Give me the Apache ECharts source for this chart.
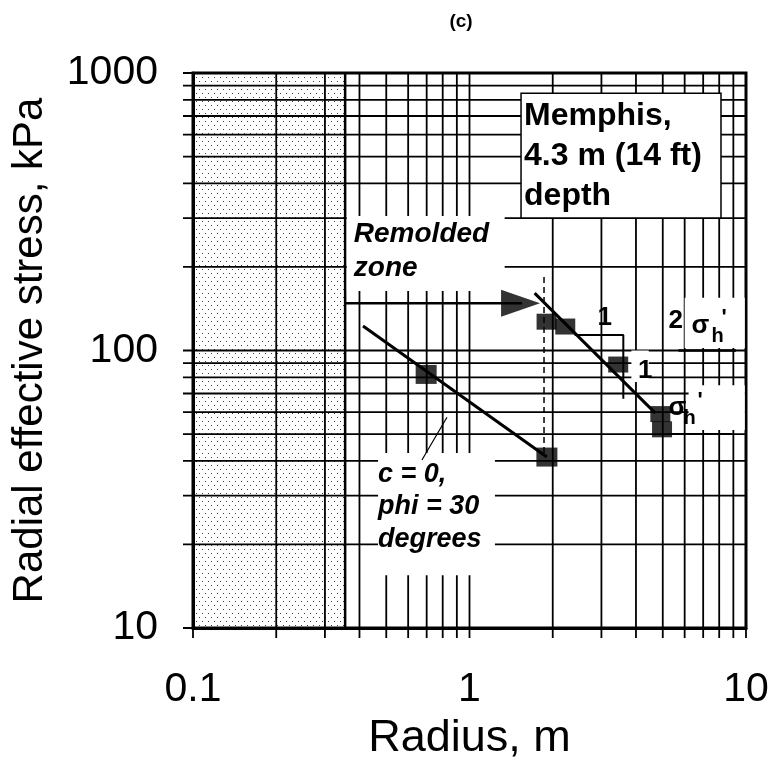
<!DOCTYPE html>
<html>
<head>
<meta charset="utf-8">
<script src="https://cdn.jsdelivr.net/npm/echarts@6/dist/echarts.min.js"></script>
<style>
  html, body { margin: 0; padding: 0; background: #fff; }
  #main { width: 770px; height: 766px; }
</style>
</head>
<body>
<div id="main"></div>
<script>
// log grid lines / ticks
var xTicks = [0.1, 0.2, 0.3, 0.4, 0.5, 0.6, 0.7, 0.8, 0.9, 1, 2, 3, 4, 5, 6, 7, 8, 9, 10];
var yTicks = [10, 20, 30, 40, 50, 60, 70, 80, 90, 100, 200, 300, 400, 500, 600, 700, 800, 900, 1000];

// measured radial effective stress (Memphis, 4.3 m)
var measR = [1.9, 2.22, 3.45, 4.9, 4.97];
var measS = [127, 122, 89, 59, 52];
// slope -1 line through the measurements
var fitR = [1.72, 4.7];
var fitS = [161, 59.5];
// c = 0, phi = 30 degrees
var cR = [0.697, 1.905];
var cS = [82, 41.3];
var cLineR = [0.412, 1.905];
var cLineS = [122.5, 41.3];
// remolded zone
var remoldR = 0.355;
var arrowR = [0.355, 1.55];
var arrowS = 148;
var arrowHeadR = 1.53;
var dashR = 1.86;
var dashS = [184, 42];
// 1:1 slope triangle
var triR = [2.4, 3.6, 3.6];
var triS = [113.7, 113.7, 67];
// sigma_h' and 2 sigma_h' levels
var sig2R = [5.7, 9.2], sig2S = 100;
var sigR = [5.2, 8.9], sigS = 50;
var leaderR = [0.673, 0.829], leaderS = [40.3, 57.5];

var FONT = '"Liberation Sans", Arial, sans-serif';

function zip(a, b) {
  var out = [];
  for (var i = 0; i < a.length; i++) out.push([a[i], b[i]]);
  return out;
}

// dot pattern for remolded zone
var cv = document.createElement('canvas');
cv.width = 6; cv.height = 8;
var cx = cv.getContext('2d');
cx.fillStyle = '#444';
cx.fillRect(1, 1, 1, 1);
cx.fillRect(4, 5, 1, 1);
var dotPattern = { image: cv, repeat: 'repeat' };

var chart = echarts.init(document.getElementById('main'));

function seg(data, width, type, z) {
  return {
    type: 'line', data: data, showSymbol: false, silent: true, z: z || 5,
    lineStyle: { color: '#000', width: width, type: type || 'solid' },
    animation: false
  };
}

var option = {
  animation: false,
  grid: {
    left: 193, right: 24, top: 73, bottom: 138, containLabel: false, outerBoundsMode: 'none',
    show: true, borderColor: '#000', borderWidth: 3
  },
  xAxis: {
    type: 'log', logBase: 10, min: 0.1, max: 10,
    name: 'Radius, m', nameLocation: 'middle', nameGap: 88,
    nameTextStyle: { fontSize: 45, color: '#000', fontFamily: FONT },
    axisLine: { lineStyle: { color: '#000', width: 3 } },
    axisTick: { show: false },
    splitLine: { show: false },
    axisLabel: { fontSize: 41, color: '#000', fontFamily: FONT, margin: 41, formatter: function (v) { return String(v); } }
  },
  yAxis: {
    type: 'log', logBase: 10, min: 10, max: 1000,
    name: 'Radial effective stress, kPa', nameLocation: 'middle', nameGap: 142,
    nameTextStyle: { fontSize: 42, color: '#000', fontFamily: FONT },
    axisLine: { lineStyle: { color: '#000', width: 3 } },
    axisTick: { show: false },
    splitLine: { show: false },
    axisLabel: { fontSize: 41, color: '#000', fontFamily: FONT, margin: 35, formatter: function (v) { return String(v); } }
  },
  series: [
    {
      type: 'custom', silent: true, z: 0, clip: false,
      data: [[0.1, 10]], encode: { x: 0, y: 1 },
      renderItem: function (params, api) {
        var p1 = api.coord([0.1, 1000]);
        var p2 = api.coord([remoldR, 10]);
        return { type: 'rect', shape: { x: p1[0], y: p1[1], width: p2[0] - p1[0], height: p2[1] - p1[1] }, style: { fill: dotPattern } };
      }
    },
    {
      type: 'custom', silent: true, z: 1, clip: false,
      data: xTicks.map(function (v) { return [v, 10]; }), encode: { x: 0, y: 1 },
      renderItem: function (params, api) {
        var v = api.value(0);
        var a = api.coord([v, 10]), b = api.coord([v, 1000]);
        return { type: 'line', shape: { x1: a[0], y1: a[1] + 10, x2: b[0], y2: b[1] }, style: { stroke: '#000', lineWidth: 1.8 } };
      }
    },
    {
      type: 'custom', silent: true, z: 1, clip: false,
      data: yTicks.map(function (v) { return [0.1, v]; }), encode: { x: 0, y: 1 },
      renderItem: function (params, api) {
        var v = api.value(1);
        var a = api.coord([0.1, v]), b = api.coord([10, v]);
        return { type: 'line', shape: { x1: a[0] - 10, y1: a[1], x2: b[0], y2: b[1] }, style: { stroke: '#000', lineWidth: 1.8 } };
      }
    },
    seg([[remoldR, 10], [remoldR, 1000]], 2.5, 'solid', 2),
    seg(zip(fitR, fitS), 3),
    seg(zip(cLineR, cLineS), 3),
    seg(zip(arrowR, [arrowS, arrowS]), 2.5),
    seg([[dashR, dashS[0]], [dashR, dashS[1]]], 1.5, [6, 4]),
    seg(zip(leaderR, leaderS), 1.2, 'solid', 7),
    seg(zip(triR, triS), 2),
    seg(zip(sig2R, [sig2S, sig2S]), 2.5, 'solid', 7),
    seg(zip(sigR, [sigS, sigS]), 2, 'solid', 7),
    {
      type: 'scatter', z: 6, silent: true, symbol: 'triangle', symbolRotate: -90, symbolSize: [27, 39],
      itemStyle: { color: '#000' }, data: [[arrowHeadR, arrowS]]
    },
    {
      type: 'scatter', z: 6, silent: true, symbol: 'rect', symbolSize: [20, 16],
      itemStyle: { color: '#000' }, data: zip(measR, measS)
    },
    {
      type: 'scatter', z: 6, silent: true, symbol: 'rect', symbolSize: [21, 19],
      itemStyle: { color: '#000' }, data: zip(cR, cS)
    }
  ]
};
chart.setOption(option);

function px(r, s) { return chart.convertToPixel({ gridIndex: 0 }, [r, s]); }
function box(a, b, stroke) {
  var p = px(a[0], a[1]), q = px(b[0], b[1]);
  return {
    type: 'rect', z: 3, silent: true,
    shape: { x: p[0], y: p[1], width: q[0] - p[0], height: q[1] - p[1] },
    style: { fill: '#fff', stroke: stroke || null, lineWidth: stroke ? 1.5 : 0 }
  };
}
function txt(x, y, text, font, lh, align) {
  return {
    type: 'text', z: 8, silent: true, x: x, y: y,
    style: {
      text: text, font: font, fill: '#000', lineHeight: lh,
      align: align || 'left', verticalAlign: 'top',
      textAlign: align || 'left', textVerticalAlign: 'top'
    }
  };
}

var memA = px(1.536, 846);
var remA = px(0.36, 305);
var cA = px(0.467, 42.7);
var s2A = px(sig2R[0], sig2S);
var s1A = px(sigR[0], sigS);
var t1 = px(triR[0], triS[0]);
var t2 = px(triR[2], triS[2]);

chart.setOption({
  graphic: [
    box([1.536, 846], [8.12, 300], '#000'),
    box([0.36, 305], [1.34, 164]),
    box([0.467, 42.7], [1.236, 15.5]),
    box([6.0, 155], [9.9, 102]),
    box([6.2, 75], [9.9, 51.7]),
    box([3.1, 145], [3.45, 115]),
    box([3.85, 100], [4.45, 77]),
    txt(memA[0] + 3, memA[1] + 3, 'Memphis,\n4.3 m (14 ft)\ndepth', 'bold 32px ' + FONT, 40),
    txt(remA[0] + 7, remA[1] + 1, 'Remolded\nzone', 'italic bold 28px ' + FONT, 34),
    txt(cA[0], cA[1] + 5, 'c = 0,\nphi = 30\ndegrees', 'italic bold 27px ' + FONT, 32.5),
    txt(t1[0] + 30, t1[1] - 30, '1', 'bold 26px ' + FONT, 26, 'center'),
    txt(t2[0] + 22, t2[1] - 41, '1', 'bold 26px ' + FONT, 26, 'center'),
    txt(s2A[0] - 10, s2A[1] - 43, '2', 'bold 26px ' + FONT, 26),
    txt(s2A[0] + 13, s2A[1] - 38, 'σ', 'bold 26px ' + FONT, 26),
    txt(s2A[0] + 33, s2A[1] - 24, 'h', 'bold 20px ' + FONT, 20),
    txt(s2A[0] + 43, s2A[1] - 44, '\'', 'bold 22px ' + FONT, 22),
    txt(s1A[0] + 1, s1A[1] - 39, 'σ', 'bold 26px ' + FONT, 26),
    txt(s1A[0] + 16, s1A[1] - 26, 'h', 'bold 20px ' + FONT, 20),
    txt(s1A[0] + 30, s1A[1] - 44, '\'', 'bold 22px ' + FONT, 22),
    txt(461, 11, '(c)', 'bold 19px ' + FONT, 22, 'center')
  ]
});
window.addEventListener('resize', function () { chart.resize(); });
</script>
</body>
</html>
